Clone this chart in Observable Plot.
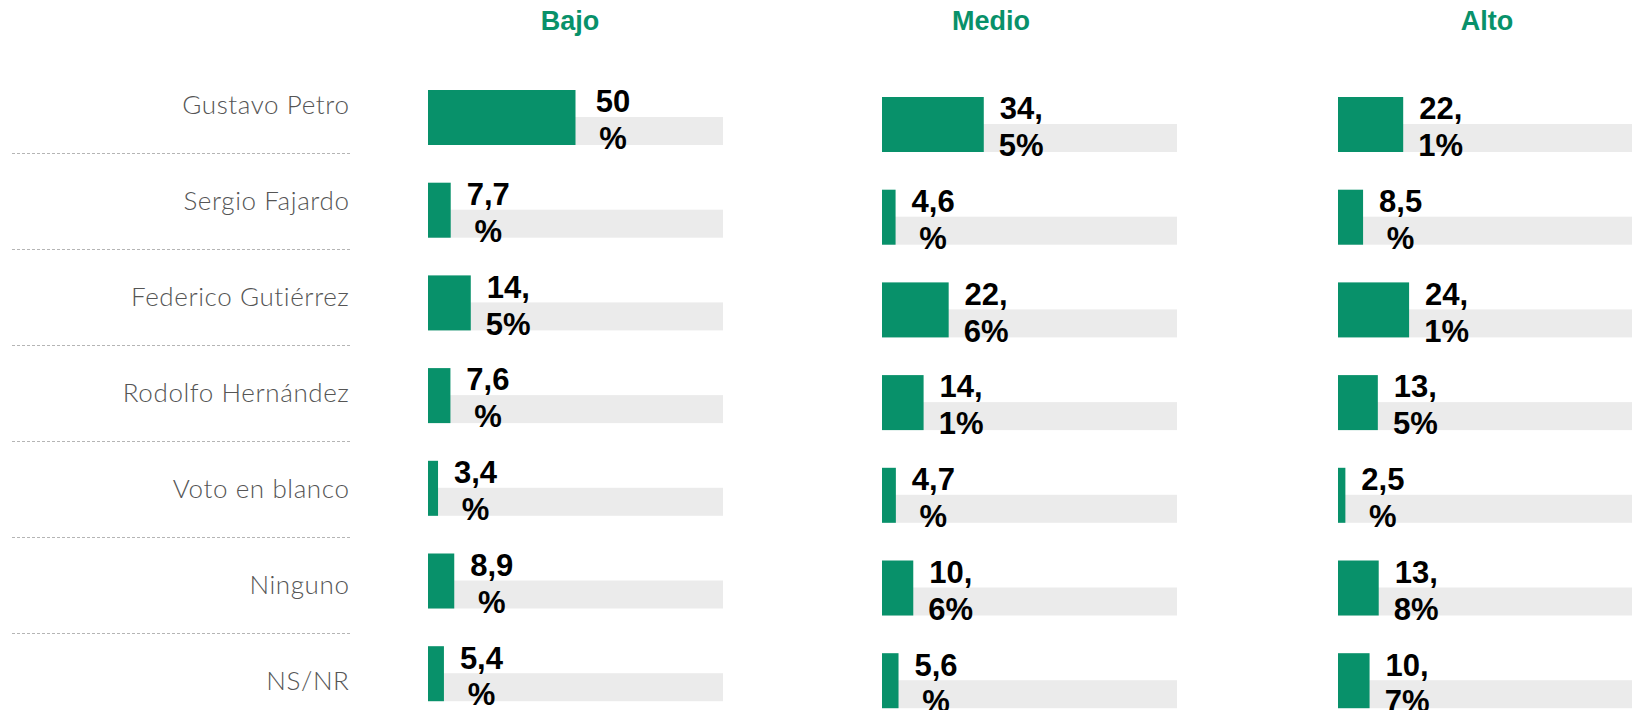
<!DOCTYPE html>
<html><head><meta charset="utf-8">
<script src="https://cdn.jsdelivr.net/npm/d3@7"></script>
<script src="https://cdn.jsdelivr.net/npm/@observablehq/plot@0.6"></script>
<style>
html,body{margin:0;padding:0;background:#fff;}
#chart{position:relative;width:1632px;height:710px;overflow:hidden;}
.abs{position:absolute;top:0;}
.abs svg{max-width:none !important;}
.title{position:absolute;top:6px;transform:translateX(-50%);font-family:"Liberation Sans",Arial,sans-serif;font-weight:bold;font-size:27px;color:#08916a;white-space:nowrap;}
.names text{letter-spacing:0.6px;}
</style></head><body><div id="chart"></div>
<script>
const candidates = ["Gustavo Petro","Sergio Fajardo","Federico Gutiérrez","Rodolfo Hernández","Voto en blanco","Ninguno","NS/NR"];
const groups = ["Bajo","Medio","Alto"];
const bajo  = [50, 7.7, 14.5, 7.6, 3.4, 8.9, 5.4];
const medio = [34.5, 4.6, 22.6, 14.1, 4.7, 10.6, 5.6];
const alto  = [22.1, 8.5, 24.1, 13.5, 2.5, 13.8, 10.7];
const fullScale = 100;

const GREEN = "#08916a";
const chart = document.getElementById("chart");

function fmt(v) {
  const s = String(v).replace(".", ",") + "%";
  return s.length > 4 ? s.slice(0, 3) + "\n" + s.slice(3) : s.slice(0, -1) + "\n" + s.slice(-1);
}

function place(el, left, width) {
  const w = document.createElement("div");
  w.className = "abs";
  w.style.left = left + "px";
  w.style.width = width + "px";
  w.appendChild(el);
  chart.appendChild(w);
}

// left labels
const labelPlot = Plot.plot({
  width: 360, height: 710,
  className: "names",
  marginTop: 0, marginBottom: 0, marginLeft: 12, marginRight: 9,
  style: {background: "transparent", overflow: "visible"},
  y: {type: "point", domain: candidates, range: [105, 105 + 96 * (candidates.length - 1)], padding: 0, axis: null},
  marks: [
    Plot.ruleY(candidates.slice(0, -1), {y: d => d, dy: 48, stroke: "#b5b5b5", strokeWidth: 1, strokeDasharray: "3,2"}),
    Plot.text(candidates, {y: d => d, text: d => d, frameAnchor: "right", textAnchor: "end", dx: -2,
      fontFamily: "Lato, 'Noto Sans', sans-serif", fontSize: 26, fontWeight: 300, fill: "#555"})
  ]
});
place(labelPlot, 0, 360);

function panel(values, left, top) {
  const rows = candidates.map((c, i) => ({candidate: c, value: values[i], label: fmt(values[i])}));
  const pi = 0.4067, step = 92.7;
  place(Plot.plot({
    width: 340, height: 710, margin: 0,
    style: {background: "transparent", overflow: "visible"},
    x: {domain: [0, fullScale], range: [28, 323], axis: null},
    y: {domain: candidates, range: [top, top + step * (candidates.length - pi)], paddingInner: pi, paddingOuter: 0, round: false, axis: null},
    marks: [
      Plot.barX(rows, {x1: 0, x2: d => fullScale, y: "candidate", fill: "#ebebeb", insetTop: 27}),
      Plot.barX(rows, {x1: 0, x2: "value", y: "candidate", fill: GREEN}),
      Plot.text(rows, {x: "value", y: "candidate", text: "label", textAnchor: "middle", dx: 37, dy: 1,
        lineHeight: 1.19, fontSize: 31, fontWeight: "bold", fill: "#000",
        fontFamily: "'Liberation Sans', Arial, sans-serif"})
    ]
  }), left, 340);
}
panel(bajo, 400, 90);
panel(medio, 854, 97);
panel(alto, 1310, 97);

const titleX = [570, 991, 1487];
groups.forEach((g, i) => {
  const t = document.createElement("div");
  t.className = "title";
  t.style.left = titleX[i] + "px";
  t.textContent = g;
  chart.appendChild(t);
});
</script>
</body></html>
